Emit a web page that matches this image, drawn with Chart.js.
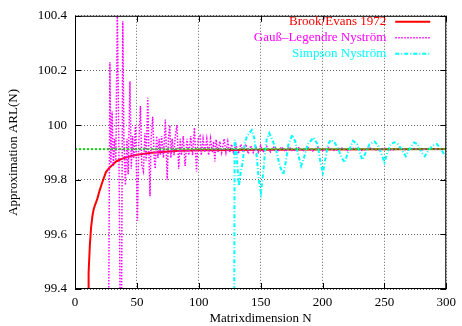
<!DOCTYPE html>
<html>
<head>
<meta charset="utf-8">
<script src="https://cdn.jsdelivr.net/npm/chart.js@4"></script>
<style>
html, body { margin: 0; padding: 0; background: #fff; }
canvas { display: block; }
</style>
</head>
<body>
<canvas id="chart" width="462" height="326"></canvas>
<script>
// axes
const xTicks = [0, 50, 100, 150, 200, 250, 300]
const yTicks = [99.4, 99.6, 99.8, 100, 100.2, 100.4]
const yTickLabels = ['99.4', '99.6', '99.8', '100', '100.2', '100.4']
const seriesNames = ['Brook/Evans 1972', 'Gauß–Legendre Nyström', 'Simpson Nyström']

// Brook/Evans 1972
const brookN =   [10, 10.6, 11, 12, 13, 14, 15, 16, 17, 18, 20, 22, 25, 28, 30, 33, 36, 40, 44, 50, 62, 84, 100, 150, 200, 300]
const brookArl = [99.30, 99.40, 99.46, 99.56, 99.625, 99.665, 99.69, 99.705, 99.717, 99.73, 99.762, 99.79, 99.828, 99.845, 99.853, 99.866, 99.873, 99.88, 99.885, 99.891, 99.899, 99.906, 99.908, 99.91, 99.911, 99.912]

// Gauss-Legendre Nystroem
const glN = [26.8, 28.2, 29, 30, 31, 32, 33, 34.2, 35.5, 37.2, 38.6, 39.5, 40.7, 42, 43, 44.4, 45.5, 46.5, 47.5, 48.9,
  50.5, 51.5, 52.9, 54, 55.3, 56.5, 57.5, 58.8, 59.8, 60.6, 61.5, 62.8, 64, 64.8, 66, 67, 68, 69, 70, 71.5,
  73, 74.5, 75.5, 76.6, 77.5, 78.5, 80, 81, 82.4, 83.8, 85, 86, 87.5, 89, 90.5, 92, 93.5, 95, 96.5, 98.2,
  99.5, 101, 102, 103.5, 105, 106.5, 108, 109.5, 111, 112, 113, 114, 115.5, 117, 118.5, 120.5, 122, 123.5, 125, 126.5,
  128, 130, 132, 134, 136, 138, 140, 142, 144, 146, 148, 150, 152, 155, 158, 161, 164, 167, 170, 173,
  176, 180, 184, 188, 192, 196, 200, 205, 210, 215, 220, 226, 232, 238, 244, 250, 256, 262, 268, 274,
  280, 286, 292, 300]
const glArl = [98.9, 100.23, 99.86, 100.05, 99.85, 99.95, 99.87, 100.42, 99.9, 98.9, 100.38, 99.95, 99.78, 99.95, 99.82, 100.16, 99.84, 99.96, 99.88, 100.0,
  99.65, 99.93, 100.07, 99.85, 99.83, 99.97, 99.87, 100.10, 99.88, 99.74, 99.95, 100.03, 99.88, 99.84, 99.96, 99.88, 99.95, 99.89, 99.96, 99.88,
  100.02, 99.80, 99.95, 100.0, 99.88, 99.95, 99.89, 99.96, 100.0, 99.84, 99.95, 99.89, 99.96, 99.85, 99.95, 99.89, 99.96, 99.89, 99.99, 99.83,
  99.95, 99.96, 99.89, 99.95, 99.9, 99.95, 99.89, 99.95, 99.9, 99.94, 99.867, 99.947, 99.9, 99.94, 99.9, 99.95, 99.9, 99.94, 99.9, 99.93,
  99.9, 99.93, 99.895, 99.93, 99.9, 99.93, 99.895, 99.925, 99.9, 99.925, 99.9, 99.925, 99.9, 99.922, 99.902, 99.922, 99.903, 99.92, 99.903, 99.92,
  99.904, 99.92, 99.905, 99.918, 99.905, 99.918, 99.906, 99.917, 99.906, 99.917, 99.907, 99.916, 99.907, 99.916, 99.908, 99.915, 99.908, 99.915, 99.909, 99.914,
  99.909, 99.914, 99.91, 99.913]

// Simpson Nystroem
const simpsonN = [128.5, 129, 130.5, 132.4, 134, 135.6, 137, 139, 142.8, 145, 147, 148.5, 150.3, 152, 153.5, 155, 157, 160, 163, 165.5,
  168.4, 170.5, 172.5, 175.5, 178, 180.5, 182.7, 185, 188, 192.8, 196, 198.5, 200.3, 202.5, 204.5, 206.7, 210, 213, 215.5, 218,
  220.5, 224.7, 228, 230, 232.2, 235, 238, 242, 245, 248, 250, 252.5, 255, 258, 261, 264, 267.3, 270, 274, 277,
  280, 282.7, 286, 289, 292.6, 296, 299.2]
const simpsonArl = [99.0, 99.946, 99.90, 99.777, 99.83, 99.867, 99.93, 99.96, 99.982, 99.95, 99.88, 99.8, 99.753, 99.82, 99.9, 99.95, 99.97, 99.94, 99.90, 99.85,
  99.819, 99.87, 99.93, 99.964, 99.94, 99.89, 99.85, 99.88, 99.93, 99.954, 99.93, 99.86, 99.825, 99.88, 99.93, 99.946, 99.935, 99.91, 99.88, 99.863,
  99.9, 99.942, 99.93, 99.9, 99.873, 99.9, 99.93, 99.94, 99.925, 99.89, 99.863, 99.9, 99.93, 99.937, 99.93, 99.91, 99.886, 99.91, 99.936, 99.93,
  99.9, 99.886, 99.91, 99.925, 99.93, 99.91, 99.886]

// exact limit
const limitN = [0, 300]
const limitArl = [99.912, 99.912]

const font = 'Liberation Serif, Times New Roman, serif'
const colors = { brook: '#ff0000', gl: '#ff00ff', simpson: '#00ffff', limit: '#00e000' }

const pts = (xs, ys) => xs.map((x, i) => ({ x, y: ys[i] }))

// gnuplot-like frame, inward tics and key
const frame = {
    id: 'frame',
    afterDatasetsDraw(chart) {
        const { ctx, chartArea: a, scales: { x, y } } = chart
        ctx.save()
        ctx.strokeStyle = '#000'
        ctx.lineWidth = 1
        ctx.strokeRect(a.left + 0.5, a.top + 0.5, a.right - a.left - 1, a.bottom - a.top - 1)
        ctx.beginPath()
        xTicks.forEach(v => {
            const px = Math.round(x.getPixelForValue(v)) + 0.5
            ctx.moveTo(px, a.bottom); ctx.lineTo(px, a.bottom - 6)
            ctx.moveTo(px, a.top); ctx.lineTo(px, a.top + 6)
        })
        yTicks.forEach(v => {
            const py = Math.round(y.getPixelForValue(v)) + 0.5
            ctx.moveTo(a.left, py); ctx.lineTo(a.left + 6, py)
            ctx.moveTo(a.right, py); ctx.lineTo(a.right - 6, py)
        })
        ctx.stroke()

        // key
        const keys = [
            { c: colors.brook, w: 2, dash: [] },
            { c: colors.gl, w: 1.5, dash: [1.5, 1.5] },
            { c: colors.simpson, w: 2, dash: [4, 2, 1, 2] },
        ]
        ctx.font = '13px ' + font
        ctx.textAlign = 'right'
        ctx.textBaseline = 'middle'
        keys.forEach((k, i) => {
            const ky = a.top + 6 + i * 16
            ctx.fillStyle = k.c
            ctx.fillText(seriesNames[i], a.right - 60, ky)
            ctx.strokeStyle = k.c
            ctx.lineWidth = k.w
            ctx.setLineDash(k.dash)
            ctx.beginPath()
            ctx.moveTo(a.right - 51, ky)
            ctx.lineTo(a.right - 16, ky)
            ctx.stroke()
        })
        ctx.restore()
    }
}

new Chart(document.getElementById('chart'), {
    type: 'line',
    data: {
        datasets: [
            { data: pts(limitN, limitArl), borderColor: colors.limit, borderWidth: 2, borderDash: [2, 2], order: 0 },
            { data: pts(simpsonN, simpsonArl), borderColor: colors.simpson, borderWidth: 2, borderDash: [4, 2, 1, 2], order: 1 },
            { data: pts(glN, glArl), borderColor: colors.gl, borderWidth: 1.5, borderDash: [1.5, 1.5], order: 2 },
            { data: pts(brookN, brookArl), borderColor: colors.brook, borderWidth: 2, order: 3 },
        ]
    },
    options: {
        responsive: false,
        animation: false,
        devicePixelRatio: 1,
        layout: { padding: { top: 12, right: 11, left: 0, bottom: 0 } },
        elements: { point: { radius: 0 }, line: { tension: 0, fill: false } },
        plugins: { legend: { display: false }, tooltip: { enabled: false } },
        scales: {
            x: {
                type: 'linear',
                min: 0, max: 300,
                afterBuildTicks: s => { s.ticks = xTicks.map(v => ({ value: v })) },
                afterFit: s => { s.height = 37 },
                grid: { color: 'rgba(0,0,0,0.6)', drawTicks: false },
                border: { display: false, dash: [1, 2] },
                ticks: { padding: 6, color: '#000', font: { family: font, size: 13 }, maxRotation: 0 },
                title: { display: true, text: 'Matrixdimension N', color: '#000', font: { family: font, size: 13 }, padding: { top: 0, bottom: 0 } }
            },
            y: {
                type: 'linear',
                min: 99.4, max: 100.4,
                afterBuildTicks: s => { s.ticks = yTicks.map(v => ({ value: v })) },
                afterFit: s => { s.width = 75 },
                grid: { color: 'rgba(0,0,0,0.6)', drawTicks: false },
                border: { display: false, dash: [1, 2] },
                ticks: { padding: 8, color: '#000', font: { family: font, size: 13 },
                    callback: (v, i) => yTickLabels[i] },
                title: { display: true, text: 'Approximation ARL(N)', color: '#000', font: { family: font, size: 13 }, padding: { top: 6, bottom: 0 } }
            }
        }
    },
    plugins: [frame]
})
</script>
</body>
</html>
